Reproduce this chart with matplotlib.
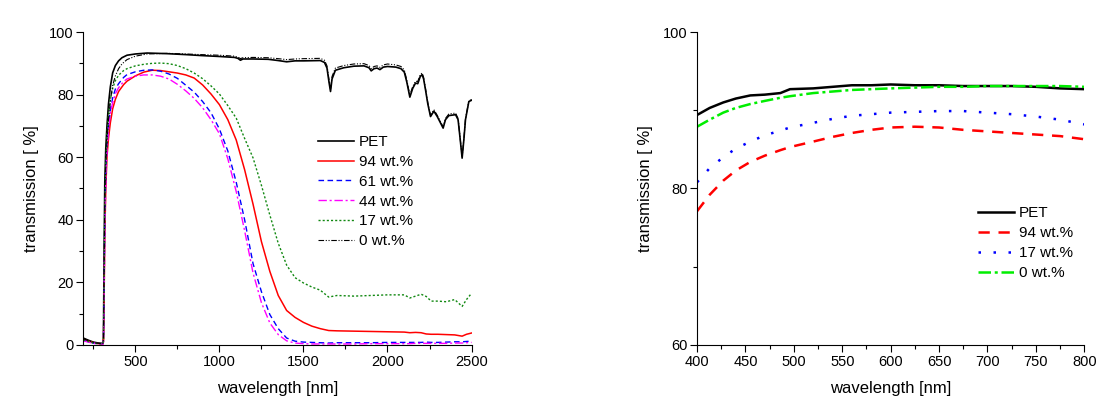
import matplotlib
matplotlib.use("Agg")
import matplotlib.pyplot as plt
from matplotlib.ticker import MultipleLocator

plt.rcParams['font.family'] = ['Liberation Sans', 'DejaVu Sans']

# ---------------- left panel data ----------------
wl_pet = [190, 220, 250, 280, 306, 310, 314, 318, 324, 331, 340, 351, 365, 381, 400, 420, 450, 500, 570,
          690, 800, 890, 1000, 1090, 1110, 1125, 1140, 1200, 1290, 1350, 1400, 1450, 1500, 1600, 1625,
          1640, 1652, 1661, 1670, 1690, 1740, 1800, 1860, 1890, 1903, 1920, 1938, 1955, 1975, 2000,
          2050, 2080, 2100, 2115, 2133, 2150, 2167, 2180, 2195, 2206, 2215, 2226, 2240, 2256, 2276,
          2296, 2315, 2331, 2345, 2365, 2405, 2420, 2432, 2444, 2455, 2464, 2484, 2500]
t_pet = [2.2, 1.5, 0.9, 0.6, 0.5, 2, 30, 52, 63, 70, 77, 82.5, 87, 89.3, 90.8, 91.8, 92.6, 93.0, 93.3,
         93.1, 92.8, 92.5, 92.2, 91.9, 91.6, 91.0, 91.4, 91.4, 91.3, 90.9, 90.5, 90.8, 90.8, 90.9, 90.3,
         88.5, 84, 81, 85, 87.8, 88.6, 89.1, 89.2, 88.6, 87.6, 88.3, 88.5, 88.0, 88.8, 89.0,
         88.8, 88.3, 87.2, 84, 79.2, 82, 83.7, 83.5, 85.8, 86.4, 85, 81.6, 77, 73, 74.7,
         73, 71, 69.3, 72, 73.3, 73.6, 72, 66, 59.7, 66, 72, 77.8, 78.2]
t_0 = [2.0, 1.4, 0.8, 0.5, 0.4, 1.5, 25, 47, 58, 65, 72, 78, 83, 86, 88.3, 89.8, 91.2, 92.3, 93.0,
       93.2, 93.0, 92.8, 92.6, 92.3, 92.0, 91.5, 91.8, 91.9, 91.8, 91.5, 91.2, 91.4, 91.5, 91.6, 91.0,
       89.2, 84.8, 81.8, 85.8, 88.5, 89.3, 89.8, 89.9, 89.3, 88.3, 89.0, 89.2, 88.7, 89.5, 89.8,
       89.5, 89.0, 87.9, 84.6, 79.8, 82.6, 84.3, 84.2, 86.4, 86.9, 85.5, 82.0, 77.4, 73.4, 75.2,
       73.4, 71.4, 69.7, 72.4, 73.8, 74.1, 72.4, 66.3, 60.0, 66.3, 72.3, 78.0, 78.4]

wl_c = [190, 220, 250, 280, 306, 310, 314, 318, 324, 331, 340, 351, 365, 381, 400, 430, 450, 500, 550,
        600, 650, 700, 750, 800, 850, 900, 950, 1000, 1050, 1100, 1150, 1200, 1250, 1300, 1350, 1400,
        1450, 1500, 1550, 1600, 1650, 1700, 1800, 1900, 2000, 2100, 2133, 2167, 2200, 2230, 2260,
        2300, 2350, 2400, 2444, 2470, 2500]
t_94 = [1.8, 1.2, 0.7, 0.4, 0.3, 1.0, 15, 35, 50, 60, 66, 71, 75.5, 78.5, 81, 83.2, 84.3, 86.0, 87.2,
        87.8, 87.7, 87.3, 86.9, 86.3, 85.3, 83.1, 80.2, 76.8, 72, 65.5, 56, 45, 33, 23.5, 15.8, 11,
        8.8, 7.2, 6.0, 5.2, 4.6, 4.5, 4.4, 4.3, 4.2, 4.1, 3.9, 4.0, 3.9, 3.5, 3.4,
        3.4, 3.3, 3.2, 2.8, 3.4, 3.8]
t_61 = [1.5, 1.0, 0.6, 0.4, 0.3, 1.0, 18, 40, 55, 64, 70, 75, 79, 81.8, 83.5, 85.5, 86.4, 87.3, 87.8,
        87.9, 87.5, 86.6, 85.2, 83, 80.8, 77.8, 74.2, 69, 62, 52, 40, 26, 17, 9.7, 5.2, 2.2,
        1.2, 0.9, 0.8, 0.7, 0.6, 0.7, 0.7, 0.7, 0.8, 0.8, 0.8, 0.8, 0.8, 0.9, 0.8,
        0.8, 0.9, 1.0, 1.0, 1.1, 1.2]
t_44 = [1.3, 0.9, 0.5, 0.3, 0.2, 0.8, 15, 36, 52, 62, 68.5, 74, 77.5, 80.3, 82.2, 84.2, 85.0, 85.9, 86.3,
        86.3, 85.9, 85.0, 83.3, 81.2, 78.8, 75.8, 72, 67.5, 59.5, 49, 36.5, 23, 13.5, 7, 3.3, 1.3,
        0.6, 0.4, 0.3, 0.3, 0.3, 0.3, 0.3, 0.4, 0.4, 0.4, 0.4, 0.5, 0.5, 0.5, 0.5,
        0.5, 0.5, 0.6, 0.6, 0.7, 0.8]
t_17 = [1.6, 1.1, 0.6, 0.4, 0.3, 1.2, 20, 42, 58, 67, 73.5, 78.5, 82, 84.5, 86.2, 87.7, 88.3, 89.2, 89.7,
        90.0, 90.1, 89.9, 89.3, 88.3, 86.9, 85.1, 82.8, 80.2, 76.5, 72.5, 66, 59.8, 51, 41.5, 32.5, 25.5,
        21.5, 19.8, 18.5, 17.5, 15.3, 15.8, 15.6, 15.8, 16.0, 16.0, 15.0, 15.6, 16.2, 15.5, 14.0,
        14.0, 13.8, 14.5, 12.3, 14.5, 16.5]

# ---------------- right panel data ----------------
wl_r = [400, 413, 427, 440, 455, 470, 486, 496, 520, 540, 560, 580, 600, 625, 650, 675, 700, 725, 750, 775, 800]
r_pet = [89.4, 90.3, 91.0, 91.5, 91.9, 92.0, 92.2, 92.7, 92.8, 93.0, 93.2, 93.2, 93.3, 93.2, 93.2, 93.1, 93.1, 93.1, 93.0, 92.8, 92.7]
r_0 = [87.9, 88.8, 89.7, 90.3, 90.8, 91.2, 91.6, 91.8, 92.2, 92.4, 92.6, 92.7, 92.8, 92.9, 93.0, 93.0, 93.1, 93.1, 93.1, 93.1, 93.0]
r_17 = [80.8, 82.6, 84.0, 85.1, 86.0, 86.8, 87.4, 87.8, 88.4, 88.9, 89.3, 89.5, 89.7, 89.8, 89.9, 89.9, 89.7, 89.5, 89.2, 88.8, 88.2]
r_94 = [77.1, 79.2, 81.0, 82.3, 83.4, 84.2, 84.9, 85.3, 86.0, 86.6, 87.1, 87.5, 87.8, 87.9, 87.8, 87.5, 87.3, 87.1, 86.9, 86.7, 86.3]

fig = plt.figure(figsize=(11.03, 3.96), dpi=100)
ax1 = fig.add_axes([0.0755, 0.129, 0.352, 0.790])
ax2 = fig.add_axes([0.632, 0.129, 0.351, 0.790])

ax1.plot(wl_pet, t_pet, color='black', lw=1.2, label='PET')
ax1.plot(wl_c, t_94, color='#ff0000', lw=1.1, label='94 wt.%')
ax1.plot(wl_c, t_61, color='#0000ff', lw=1.0, ls=(0, (4, 2.5)), label='61 wt.%')
ax1.plot(wl_c, t_44, color='#ff00ff', lw=1.0, ls=(0, (6, 2, 1.5, 2)), label='44 wt.%')
ax1.plot(wl_c, t_17, color='#118811', lw=1.0, ls=(0, (1.5, 1.5)), label='17 wt.%')
ax1.plot(wl_pet, t_0, color='black', lw=0.8, ls=(0, (5, 1.5, 1, 1.5, 1, 1.5)), label='0 wt.%')

ax1.set_xlim(190, 2500)
ax1.set_ylim(0, 100)
ax1.xaxis.set_major_locator(MultipleLocator(500))
ax1.xaxis.set_minor_locator(MultipleLocator(250))
ax1.yaxis.set_major_locator(MultipleLocator(20))
ax1.yaxis.set_minor_locator(MultipleLocator(10))
ax1.legend(loc='upper left', bbox_to_anchor=(0.59, 0.69), frameon=False, fontsize=11,
           handlelength=2.35, handletextpad=0.3, labelspacing=0.38, borderaxespad=0)

ax2.plot(wl_r, r_pet, color='black', lw=1.8, label='PET')
ax2.plot(wl_r, r_94, color='#ff0000', lw=1.8, ls=(0, (4.5, 3.5)), label='94 wt.%')
ax2.plot(wl_r, r_17, color='#0000ff', lw=1.8, ls=(0, (1, 5)), label='17 wt.%')
ax2.plot(wl_r, r_0, color='#00ee00', lw=1.8, ls=(0, (5, 1.5, 1.2, 1.5)), label='0 wt.%')
ax2.set_xlim(400, 800)
ax2.set_ylim(60, 100)
ax2.xaxis.set_major_locator(MultipleLocator(50))
ax2.xaxis.set_minor_locator(MultipleLocator(25))
ax2.yaxis.set_major_locator(MultipleLocator(20))
ax2.yaxis.set_minor_locator(MultipleLocator(10))
ax2.legend(loc='upper left', bbox_to_anchor=(0.71, 0.462), frameon=False, fontsize=11,
           handlelength=2.35, handletextpad=0.3, labelspacing=0.38, borderaxespad=0)

for ax in (ax1, ax2):
    ax.spines['top'].set_visible(False)
    ax.spines['right'].set_visible(False)
    ax.tick_params(which='major', direction='out', length=5, width=0.8, labelsize=10.5, pad=2)
    ax.tick_params(which='minor', direction='out', length=3, width=0.8)
    ax.set_xlabel('wavelength [nm]', fontsize=12, labelpad=9)
    ax.set_ylabel('transmission [ %]', fontsize=12, labelpad=7)

fig.savefig('out.png', dpi=100)
